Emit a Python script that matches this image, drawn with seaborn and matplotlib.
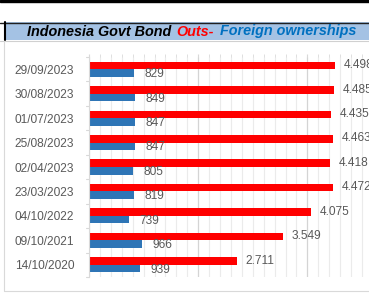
import pandas as pd
import numpy as np
import matplotlib.pyplot as plt
import seaborn as sns
from matplotlib.patches import Rectangle
from matplotlib.lines import Line2D
from matplotlib.ticker import MultipleLocator

dates = ["29/09/2023", "30/08/2023", "01/07/2023", "25/08/2023", "02/04/2023",
         "23/03/2023", "04/10/2022", "09/10/2021", "14/10/2020"]
outstanding = [4498, 4485, 4435, 4463, 4418, 4472, 4075, 3549, 2711]
foreign = [829, 849, 847, 847, 805, 819, 739, 966, 939]
series = ["Outs", "Foreign"]

RED = "#FF0000"
BLUE = "#2E75B6"
GREY = "#595959"

df = pd.concat([
    pd.DataFrame({"date": dates, "value": outstanding, "series": series[0]}),
    pd.DataFrame({"date": dates, "value": foreign, "series": series[1]}),
])

sns.set_style("white")
plt.rcParams["font.family"] = ["Liberation Sans", "DejaVu Sans"]

W, H = 369, 297
fig = plt.figure(figsize=(W / 100, H / 100), dpi=100)

# sheet decoration: top black rule, header band, chart frame
fig.patches.append(Rectangle((0, 1 - 2 / H), 1, 2 / H, transform=fig.transFigure,
                             color="black", zorder=0))
fig.patches.append(Rectangle((4 / W, 1 - 40 / H), 1, 18 / H, transform=fig.transFigure,
                             facecolor="#A4C2E4", edgecolor="none", zorder=0))
fig.lines.append(Line2D([0, 1], [1 - 22.5 / H] * 2, transform=fig.transFigure,
                        color="#1F1F1F", lw=1.0))
fig.lines.append(Line2D([4.5 / W] * 2, [1 - 22 / H, 1 - 40 / H], transform=fig.transFigure,
                        color="black", lw=1.5))
fig.lines.append(Line2D([0, 1], [1 - 40.5 / H] * 2, transform=fig.transFigure,
                        color="#D0D0D0", lw=0.8))
fig.lines.append(Line2D([3.5 / W] * 2, [1 - 41 / H, 1 - 291 / H], transform=fig.transFigure,
                        color="#D9D9D9", lw=0.8))
fig.lines.append(Line2D([3.5 / W, 1], [1 - 291 / H] * 2, transform=fig.transFigure,
                        color="#D9D9D9", lw=0.8))

# plot area (Excel chart is cut off on the right)
x0, x_top, x_bot = 89, 57, 277
px_per_unit = 54.6 / 1000
xmax = 6000
ax = fig.add_axes([x0 / W, 1 - x_bot / H, xmax * px_per_unit / W, (x_bot - x_top) / H])

sns.barplot(data=df, y="date", x="value", hue="series", orient="h",
            palette=[RED, BLUE], width=0.62, gap=0, saturation=1,
            linewidth=0, legend=False, ax=ax)

ax.set_xlim(0, xmax)
ax.set_ylim(len(dates) - 0.5, -0.5)
ax.xaxis.set_major_locator(MultipleLocator(2000))
ax.xaxis.set_minor_locator(MultipleLocator(200))
ax.grid(which="minor", axis="x", color="#EBEBEB", lw=0.8)
ax.grid(which="major", axis="x", color="#D4D4D4", lw=0.9)
ax.set_axisbelow(True)
ax.xaxis.tick_top()
ax.tick_params(axis="x", which="both", top=True, bottom=False, length=2,
               color="#D9D9D9", labeltop=False, labelbottom=False)
ax.tick_params(axis="y", left=False, labelsize=8.6, labelcolor=GREY, pad=7)
for tick in np.arange(-0.5, len(dates), 1.0):
    ax.plot([-60, 0], [tick, tick], color="#D9D9D9", lw=0.8, clip_on=False)
for side in ["top", "right", "bottom"]:
    ax.spines[side].set_visible(False)
ax.spines["left"].set_color("#D9D9D9")
ax.spines["left"].set_linewidth(0.8)
ax.set_xlabel("")
ax.set_ylabel("")

# value labels (the widest ones run off the cropped right edge, as in the source)
for i in range(len(dates)):
    ax.text(outstanding[i] + 160, i - 0.17, f"{outstanding[i] / 1000:.3f}",
            va="center", ha="left", fontsize=8.6, color=GREY)
    ax.text(foreign[i] + 190, i + 0.2, f"{foreign[i]}",
            va="center", ha="left", fontsize=8.6, color=GREY)

# multi-coloured title
parts = [("Indonesia Govt Bond ", "black"), ("Outs-", RED), (" Foreign ownerships", "#0070C0")]
fig.canvas.draw()
r = fig.canvas.get_renderer()
x = 27 / W
ty = 1 - 31.5 / H
for txt, col in parts:
    t = fig.text(x, ty, txt, color=col, fontsize=10.4, fontweight="bold",
                 fontstyle="italic", va="center", ha="left")
    bb = t.get_window_extent(renderer=r)
    x += bb.width / W + 1.5 / W

fig.savefig("out.png", dpi=100)
